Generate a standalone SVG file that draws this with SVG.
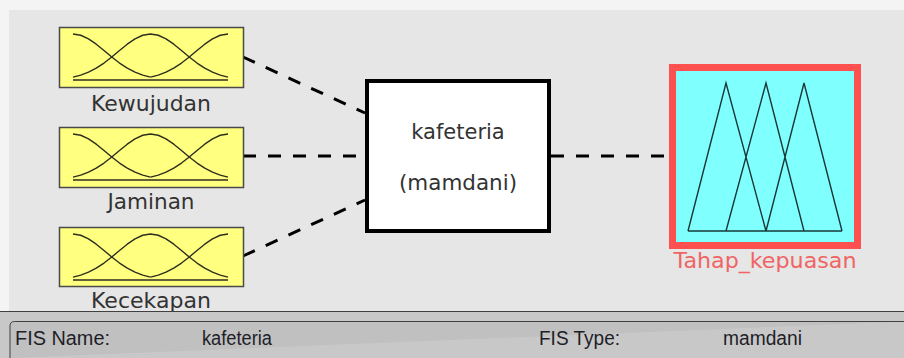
<svg xmlns="http://www.w3.org/2000/svg" width="904" height="358" viewBox="0 0 904 358">
  <style>
    .lbl { font-family: "DejaVu Sans", sans-serif; font-size: 21px; fill: #333333; text-anchor: middle; }
    .out-lbl { font-family: "DejaVu Sans", sans-serif; font-size: 21px; fill: #f06464; text-anchor: middle; }
    .sys { font-family: "DejaVu Sans", sans-serif; font-size: 21px; fill: #333333; text-anchor: middle; }
    .info { font-family: "Liberation Sans", Arial, sans-serif; font-size: 20px; fill: #1e1e28; }
    .in-box { fill: #ffff80; stroke: #4a4a4a; stroke-width: 1.5; }
    .mf { fill: none; stroke: #2e2e1e; stroke-width: 1.4; stroke-linejoin: round; }
    .tri { fill: none; stroke: #183838; stroke-width: 1.4; stroke-linejoin: miter; }
    .link { stroke: #000000; stroke-width: 3; stroke-dasharray: 13 12; fill: none; }
  </style>
  <defs>
    <!-- three gaussian membership functions on a 184x60 input box -->
    <g id="gauss3">
      <path class="mf" d="M14,7 L21.75,8.26 29.5,11.83 37.25,17.17 45,23.49 52.75,30.01 60.5,36.06 68.25,41.19 76,45.21 83.75,48.14 91.5,50.13"/>
      <path class="mf" d="M14,50.13 L21.75,48.14 29.5,45.21 37.25,41.19 45,36.06 52.75,30.01 60.5,23.49 68.25,17.17 76,11.83 83.75,8.26 91.5,7 99.25,8.26 107,11.83 114.75,17.17 122.5,23.49 130.25,30.01 138,36.06 145.75,41.19 153.5,45.21 161.25,48.14 169,50.13"/>
      <path class="mf" d="M91.5,50.13 L99.25,48.14 107,45.21 114.75,41.19 122.5,36.06 130.25,30.01 138,23.49 145.75,17.17 153.5,11.83 161.25,8.26 169,7"/>
      <path class="mf" d="M14,53 H169" stroke-width="2"/>
    </g>
  </defs>

  <!-- window background -->
  <rect x="0" y="0" width="904" height="358" fill="#f4f4f4"/>
  <rect x="9" y="10" width="895" height="302" fill="#e6e6e6"/>

  <!-- connectors -->
  <g id="connectors">
    <line class="link" x1="243" y1="57" x2="365" y2="113"/>
    <line class="link" x1="243" y1="156" x2="365" y2="156"/>
    <line class="link" x1="243" y1="256" x2="365" y2="200"/>
    <line class="link" x1="551" y1="156" x2="669" y2="156"/>
  </g>

  <!-- input variables -->
  <g id="in-kewujudan">
    <rect class="in-box" x="59.5" y="27.5" width="184" height="60"/>
    <use href="#gauss3" x="59" y="27"/>
    <text class="lbl" x="151" y="111" textLength="120" lengthAdjust="spacingAndGlyphs">Kewujudan</text>
  </g>
  <g id="in-jaminan">
    <rect class="in-box" x="59.5" y="127.5" width="184" height="60"/>
    <use href="#gauss3" x="59" y="127"/>
    <text class="lbl" x="151" y="209" textLength="87" lengthAdjust="spacingAndGlyphs">Jaminan</text>
  </g>
  <g id="in-kecekapan">
    <rect class="in-box" x="59.5" y="227.5" width="184" height="59"/>
    <use href="#gauss3" x="59" y="227"/>
    <text class="lbl" x="151" y="308" textLength="120" lengthAdjust="spacingAndGlyphs">Kecekapan</text>
  </g>

  <!-- inference system -->
  <g id="sys-kafeteria">
    <rect x="367" y="81" width="182" height="150" fill="#ffffff" stroke="#000000" stroke-width="4"/>
    <text class="sys" x="458" y="139">kafeteria</text>
    <text class="sys" x="458" y="190" textLength="118" lengthAdjust="spacingAndGlyphs">(mamdani)</text>
  </g>

  <!-- output variable -->
  <g id="out-tahap">
    <rect x="672.5" y="67.5" width="185" height="178" fill="#80ffff" stroke="#ff5050" stroke-width="7"/>
    <path class="tri" d="M688,231 L726,83 766,231 M726,231 L766,83 804,231 M766,231 L804,83 842,231 M688,231 H842"/>
    <text class="out-lbl" x="765" y="268" textLength="183" lengthAdjust="spacingAndGlyphs">Tahap_kepuasan</text>
  </g>

  <!-- status panel -->
  <g id="status">
    <rect x="0" y="311" width="904" height="47" fill="#c8c8c8"/>
    <line x1="0" y1="311.5" x2="904" y2="311.5" stroke="#404040" stroke-width="1"/>
    <path d="M10,358 V326 Q10,321.5 14.5,321.5 H904" fill="#c0c0c0" stroke="#404040" stroke-width="1"/>
    <text class="info" x="15" y="345" textLength="95" lengthAdjust="spacingAndGlyphs">FIS Name:</text>
    <text class="info" x="202" y="345" textLength="70" lengthAdjust="spacingAndGlyphs">kafeteria</text>
    <text class="info" x="539" y="345" textLength="81" lengthAdjust="spacingAndGlyphs">FIS Type:</text>
    <text class="info" x="723" y="345" textLength="79" lengthAdjust="spacingAndGlyphs">mamdani</text>
  </g>
</svg>
